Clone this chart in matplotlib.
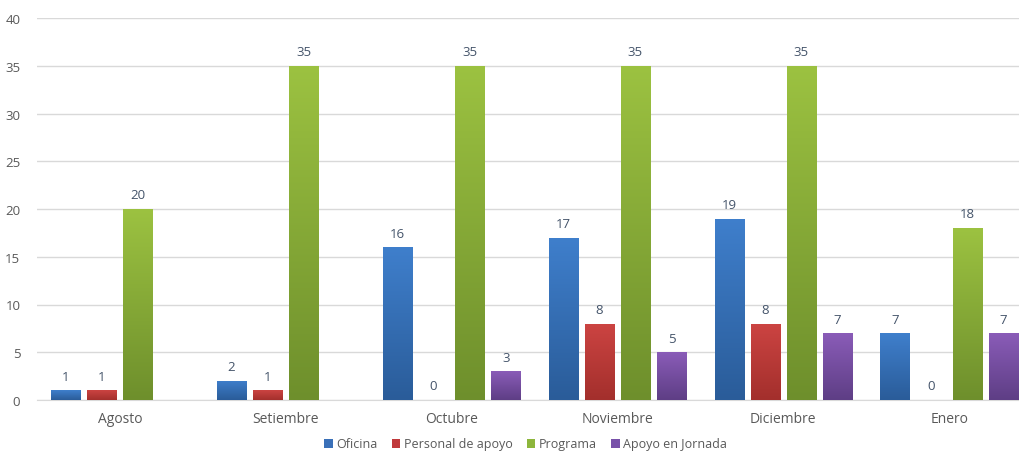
import numpy as np
import matplotlib
matplotlib.use("Agg")
import matplotlib.pyplot as plt
from matplotlib.colors import LinearSegmentedColormap
from matplotlib.patches import Patch

plt.rcParams['font.family'] = ['Open Sans', 'DejaVu Sans']

months = ["Agosto", "Setiembre", "Octubre", "Noviembre", "Diciembre", "Enero"]
oficina = [1, 2, 16, 17, 19, 7]
personal = [1, 1, 0, 8, 8, 0]
programa = [20, 35, 35, 35, 35, 18]
apoyo = [np.nan, np.nan, 3, 5, 7, 7]
series_names = ["Oficina", "Personal de apoyo", "Programa", "Apoyo en Jornada"]
series = [oficina, personal, programa, apoyo]
colors_top = ["#3F7FCC", "#CC4442", "#9CC241", "#8A5CB8"]
colors_bot = ["#2A5C99", "#A32F2C", "#6E8F2C", "#5E3E85"]
legend_colors = ["#3A70B8", "#C0393B", "#8DB63C", "#7851A9"]

fig = plt.figure(figsize=(10.19, 4.52), dpi=100)
ax = fig.add_axes([37/1019, 51/452, (1032-37)/1019, (401-19)/452])

x = np.arange(len(months))
w = 0.175
step = 0.218
grad = np.linspace(1, 0, 256).reshape(-1, 1)
for i, (vals, ct, cb) in enumerate(zip(series, colors_top, colors_bot)):
    cmap = LinearSegmentedColormap.from_list(f"g{i}", [cb, ct])
    offs = (i - 1.5) * step
    bars = ax.bar(x + offs, np.nan_to_num(vals), w, color=ct, zorder=2)
    for b, v in zip(bars, vals):
        if np.isnan(v):
            b.set_visible(False)
            continue
        if v > 0:
            x0, y0 = b.get_x(), b.get_y()
            im = ax.imshow(grad, extent=[x0, x0 + b.get_width(), y0, y0 + b.get_height()],
                           cmap=cmap, aspect='auto', zorder=3, origin='upper')
            im.set_clip_path(b)
        ax.text(b.get_x() + b.get_width() / 2, v + 0.8, f"{int(v)}",
                ha='center', va='bottom', fontsize=9.5, color='#44546A', zorder=4)

ax.set_xlim(-0.5, len(months) - 0.5)
ax.set_ylim(0, 40)
ax.set_yticks(range(0, 41, 5))
ax.set_xticks(x)
ax.set_xticklabels(months)
ax.tick_params(axis='both', length=0, colors='#595959')
ax.tick_params(axis='y', pad=12, labelsize=9.5)
ax.tick_params(axis='x', pad=8, labelsize=10)
ax.grid(axis='y', color='#D9D9D9', linewidth=1, zorder=0)
for s in ['top', 'right', 'left']:
    ax.spines[s].set_visible(False)
ax.spines['bottom'].set_color('#D9D9D9')
ax.set_axisbelow(True)

handles = [Patch(facecolor=c, edgecolor='none') for c in legend_colors]
fig.legend(handles, series_names, loc='center', bbox_to_anchor=(0.516, 1 - 445/452),
           ncol=4, frameon=False, fontsize=9, handlelength=0.7, handleheight=0.7,
           handletextpad=0.3, columnspacing=1.1, labelcolor='#595959')

fig.savefig("out.png", dpi=100)
